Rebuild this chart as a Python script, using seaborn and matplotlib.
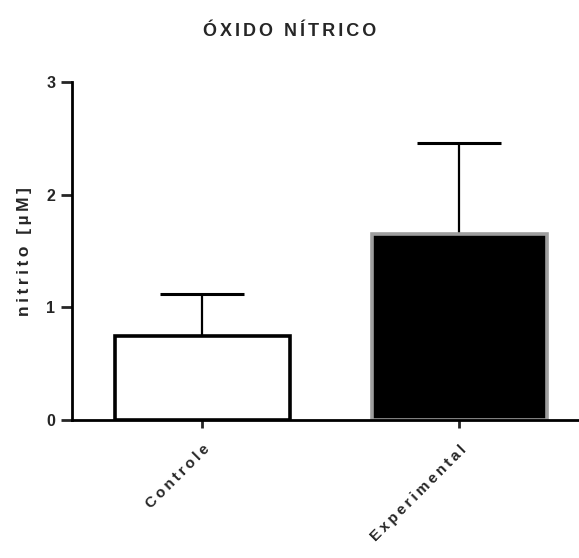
import matplotlib
matplotlib.use("Agg")
import matplotlib.pyplot as plt
import seaborn as sns
import pandas as pd

groups = ["Controle", "Experimental"]
means = [0.75, 1.65]
errors = [0.37, 0.81]
fill_colors = ["white", "black"]
edge_colors = ["black", "#9e9e9e"]
yticks = [0, 1, 2, 3]
title = "ÓXIDO NÍTRICO"
ylabel = "nitrito [µM]"

sns.set_style("ticks")
plt.rcParams["font.family"] = ["Liberation Sans", "DejaVu Sans"]

def spaced(s, sep="\u2009"):
    return sep.join(list(s))

df = pd.DataFrame({"group": groups, "value": means})

fig = plt.figure(figsize=(5.79, 5.58), dpi=100)
ax = fig.add_axes([0.124, 0.247, 0.874, 0.606])

sns.barplot(data=df, x="group", y="value", hue="group", palette=fill_colors,
            width=0.68, legend=False, ax=ax, errorbar=None, zorder=2)
for p, ec in zip(ax.patches, edge_colors):
    p.set_edgecolor(ec)
    p.set_linewidth(2.6)

ax.errorbar(range(len(groups)), means, yerr=[[0] * len(groups), errors],
            fmt="none", ecolor="black", elinewidth=1.6, capsize=30,
            capthick=2.2, zorder=1)

ax.set_xlim(-0.506, 1.46)
ax.set_ylim(0, 3)
ax.set_yticks(yticks)
ax.set_yticklabels([str(t) for t in yticks], fontsize=11.5, fontweight="bold")
ax.set_xticks(range(len(groups)))
ax.set_xticklabels([spaced(g) for g in groups], rotation=45, ha="right",
                   va="top", rotation_mode="anchor", fontsize=11,
                   fontweight="bold")
ax.set_xlabel("")
ax.set_ylabel(spaced(ylabel), fontsize=12.5, fontweight="bold", labelpad=10)
fig.text(0.5, 1 - 32 / 558, spaced(title, "\u2006"), ha="center", va="center",
         fontsize=13, fontweight="bold")

for s in ["top", "right"]:
    ax.spines[s].set_visible(False)
for s in ["left", "bottom"]:
    ax.spines[s].set_linewidth(2.0)
    ax.spines[s].set_color("black")
ax.tick_params(axis="y", length=8, width=2.0, pad=4)
ax.tick_params(axis="x", length=6, width=2.0, pad=10)

fig.savefig("out.png", dpi=100)
